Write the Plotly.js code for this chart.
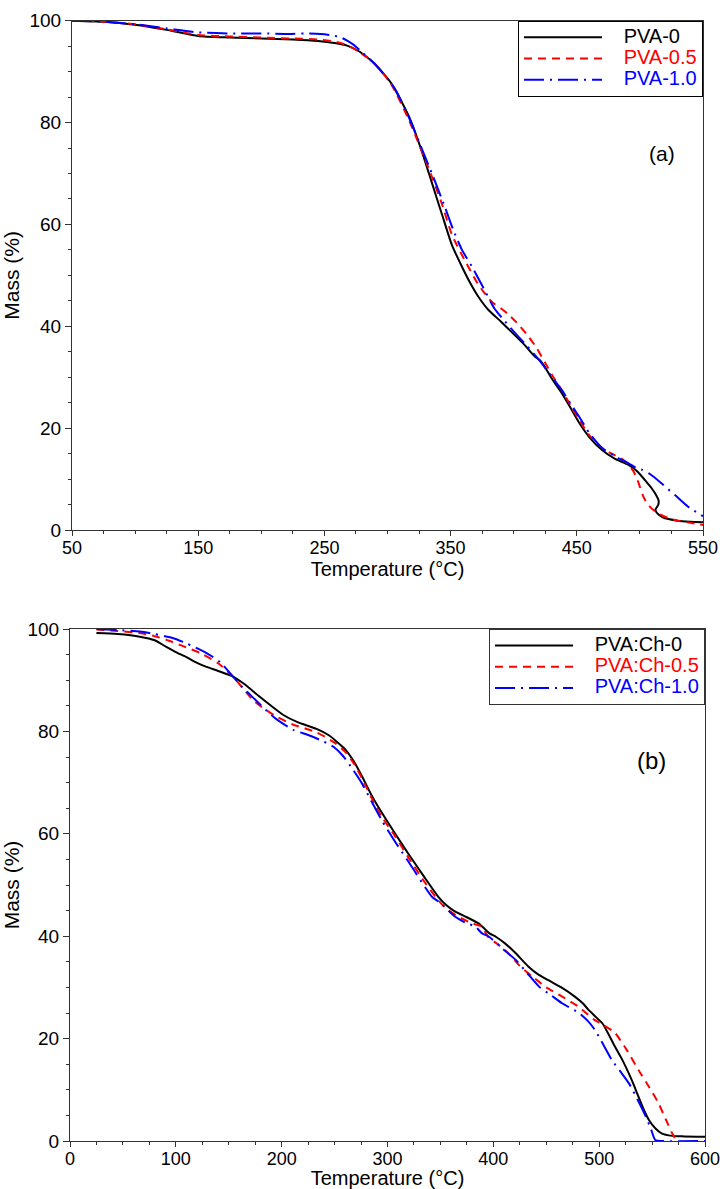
<!DOCTYPE html>
<html><head><meta charset="utf-8">
<script src="https://cdn.plot.ly/plotly-3.0.1.min.js"></script>
<style>html,body{margin:0;padding:0;background:#fff}</style>
</head><body>
<div id="chart" style="width:724px;height:1189px"></div>
<script>
// ---------- Panel (a): PVA films ----------
const pva0_T = [50,75,100,125,150,175,200,225,245,258,268,278,290,303,317,327,335,343,351,359,366,372,380,390,399,408,417,421,424,430,438,445,452,460,470,480,491,498,504,509,512,514.8,514.5,512.3,514,518,530,540,550];
const pva0_M = [100,99.8,99.2,98.2,97.0,96.7,96.5,96.3,96.0,95.6,95.1,93.9,91.5,87.7,81.2,74.5,68.3,62.1,56.0,51.7,48.3,45.8,43.2,40.9,38.7,36.5,34.0,33.3,32.3,29.8,26.9,24.0,21.0,18.2,15.7,14.0,12.8,11.5,9.8,8.3,7.2,5.8,4.9,4.0,3.2,2.5,1.8,1.6,1.5];

const pva05_T = [50,75,100,125,150,175,200,225,245,258,268,278,290,303,317,327,335,343,351,359,364,370,376,383,390,396,404,412,418,425,431,438,445,452,460,470,476,480,485,491,495,499,502,505,509,512,518,523,530,540,550];
const pva05_M = [100,99.8,99.3,98.3,97.2,96.9,96.7,96.5,96.3,95.9,95.2,93.8,91.5,87.5,80.5,74.5,69.5,64.1,58.0,54.0,51.7,49.0,46.8,44.7,43.5,42.3,40.3,37.9,35.8,32.8,30.2,27.5,24.5,21.6,18.6,16.1,15.2,14.7,14.1,12.8,11.5,9.2,7.0,5.5,4.3,3.7,2.8,2.3,1.8,1.4,1.0];

const pva10_T = [50,75,100,125,150,175,200,222,235,247,257,263,268,273,278,290,306,317,327,336,345.5,352,359,367,375,385,393,401,410,420,429,438,445,452,460,470,480,491,497,502,508,517,528,538,550];
const pva10_M = [100,99.8,99.3,98.5,97.7,97.5,97.5,97.4,97.5,97.4,97.1,96.7,96.1,95.3,94.2,91.5,86.6,81.0,75.0,69.5,63.4,59.0,55.0,51.7,48.0,43.4,41.0,38.7,36.3,33.4,30.5,27.5,24.8,22.2,19.0,16.1,14.5,13.1,12.2,11.8,11.0,9.2,6.8,4.6,2.7];

// ---------- Panel (b): PVA:Ch films ----------
const ch0_T = [25,45,66,80,91,100,110,120,129,140,154,165,179,190,201.6,215,233,245,252,260,268,276,285,295,307,320,335,348,356,364,375,386,391,396,403,411,420,433,442,452,465,477,485,490,497,503,509,515,522,528,533,537,542,547,553,559,569,580,600];
const ch0_M = [99.2,99.0,98.5,97.8,96.5,95.5,94.5,93.4,92.6,91.8,90.7,89.2,86.8,85.0,83.2,81.8,80.5,79.2,78.0,76.5,74.2,71.2,67.5,64.0,60.1,56.0,51.5,47.7,46.0,44.8,43.7,42.5,41.6,40.6,39.8,38.6,36.9,34.1,32.6,31.4,29.9,28.2,26.8,25.6,24.2,23.0,20.8,18.4,15.8,13.2,10.8,8.7,6.2,4.1,2.5,1.5,1.0,0.9,0.85];

const ch05_T = [25,45,66,80,91,105,123,140,154,165,173,185,195,210,233,250,260,268,276,285,295,307,320,335,348,356,367,380,389,395,405,414,425,437,450,465,480,496,505,515,526,537,547,556,563,569,573];
const ch05_M = [99.9,99.6,99.2,98.6,97.9,96.8,95.3,93.3,90.7,88.0,86.1,84.2,82.9,81.4,79.8,77.8,76.0,73.8,70.8,67.0,63.2,59.6,55.3,50.6,47.0,45.3,43.8,42.5,41.9,39.9,38.3,36.7,34.2,32.1,30.0,28.2,26.3,23.6,22.5,21.1,17.8,13.9,10.6,7.4,4.2,1.5,0];

const ch10_T = [25,45,66,80,97.6,110,129,142,154,163,173,185,195,211,225,240,249,258,267.5,276,285,295,307,320,342,350,364,375,383,389,396,408,421,432,443,455,465,481,489,496,504,512,520,528,536,544,549,553,560,600];
const ch10_M = [100,99.8,99.5,99.0,98.2,97.2,95.3,93.5,90.7,88.6,86.6,84.2,82.4,80.3,79.3,78.0,77.0,75.2,72.5,69.8,66.3,62.5,58.5,54.5,47.7,46.5,43.8,42.5,41.9,40.6,39.9,37.7,35.4,32.8,30.2,28.4,26.9,25.0,23.5,21.7,18.8,15.8,13.6,11.3,8.2,4.8,2.3,0.2,0,0];

const namesA = ['PVA-0','PVA-0.5','PVA-1.0'];
const namesB = ['PVA:Ch-0','PVA:Ch-0.5','PVA:Ch-1.0'];
const colors = ['#000000','#ff0000','#0000ff'];
const dashes = ['solid','8px,6px','20px,6px,2px,6px'];

const FONT = 'Liberation Sans, Arial, sans-serif';
function lbl(name, c){ return '<span style="color:'+c+';font-size:20px">&nbsp;&nbsp;&nbsp;'+name+'</span>'; }

const traces = [];
[[pva0_T,pva0_M],[pva05_T,pva05_M],[pva10_T,pva10_M]].forEach((d,i)=>{
  traces.push({x:d[0], y:d[1], type:'scatter', mode:'lines', name:lbl(namesA[i],colors[i]),
    line:{color:colors[i], width:2, dash:dashes[i], shape:'spline', smoothing:0.6},
    xaxis:'x', yaxis:'y', legend:'legend'});
});
[[ch0_T,ch0_M],[ch05_T,ch05_M],[ch10_T,ch10_M]].forEach((d,i)=>{
  traces.push({x:d[0], y:d[1], type:'scatter', mode:'lines', name:lbl(namesB[i],colors[i]),
    line:{color:colors[i], width:2, dash:dashes[i], shape:'spline', smoothing:0.6},
    xaxis:'x2', yaxis:'y2', legend:'legend2'});
});

const axLine = '#333333';
function xAx(range, tick0, dtick, dom, anchor){
  return {domain:dom, anchor:anchor, range:range, tick0:tick0, dtick:dtick,
    ticks:'outside', ticklen:5, tickwidth:1, tickcolor:axLine, ticklabelstandoff:-4,
    minor:{tick0:tick0, dtick:25, ticks:'outside', ticklen:3, tickwidth:1, tickcolor:axLine, showgrid:false},
    showline:true, linecolor:axLine, linewidth:1, mirror:true, showgrid:false, zeroline:false,
    tickfont:{family:FONT, size:18, color:'#000'},
    title:{text:'Temperature (°C)', font:{family:FONT, size:20, color:'#000'}, standoff:0}};
}
function yAx(dom, anchor){
  return {domain:dom, anchor:anchor, range:[0,100], tick0:0, dtick:20,
    ticks:'outside', ticklen:6, tickwidth:1, tickcolor:axLine,
    minor:{tick0:0, dtick:5, ticks:'outside', ticklen:3, tickwidth:1, tickcolor:axLine, showgrid:false},
    showline:true, linecolor:axLine, linewidth:1, mirror:true, showgrid:false, zeroline:false,
    tickfont:{family:FONT, size:19, color:'#000'},
    title:{text:'Mass (%)', font:{family:FONT, size:21, color:'#000'}, standoff:6}};
}

const layout = {
  width:724, height:1189,
  margin:{l:0, r:0, t:0, b:0},
  paper_bgcolor:'#fff', plot_bgcolor:'#fff',
  font:{family:FONT, color:'#000'},
  xaxis: xAx([50,550], 50, 100, [72/724, 703/724], 'y'),
  yaxis: yAx([1-530/1189, 1-20.7/1189], 'x'),
  xaxis2: xAx([0,600], 0, 100, [70/724, 705/724], 'y2'),
  yaxis2: yAx([1-1141/1189, 1-629/1189], 'x2'),
  legend:{x:703/724, xanchor:'right', y:1-20.7/1189, yanchor:'top',
    bordercolor:'#000', borderwidth:1, bgcolor:'#fff',
    font:{family:FONT, size:14, color:'#000'}, itemwidth:78, tracegroupgap:0},
  legend2:{x:705/724, xanchor:'right', y:1-629/1189, yanchor:'top',
    bordercolor:'#333', borderwidth:1, bgcolor:'#fff',
    font:{family:FONT, size:14, color:'#000'}, itemwidth:78, tracegroupgap:0},
  annotations:[
    {xref:'x', yref:'y', x:517.5, y:74, text:'(a)', showarrow:false, font:{family:FONT, size:21, color:'#000'}},
    {xref:'x2', yref:'y2', x:549, y:74.4, text:'(b)', showarrow:false, font:{family:FONT, size:24, color:'#000'}}
  ],
  showlegend:true
};

Plotly.newPlot('chart', traces, layout, {staticPlot:true, displayModeBar:false});
</script>
</body></html>
